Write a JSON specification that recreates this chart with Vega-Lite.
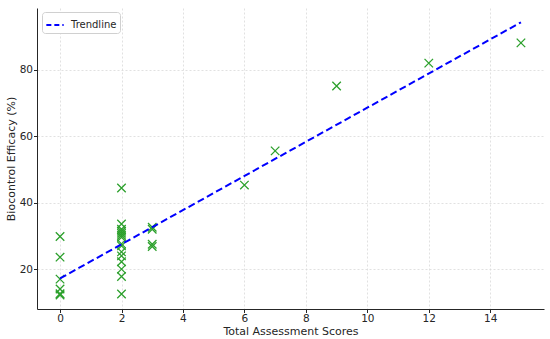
{
  "$schema": "https://vega.github.io/schema/vega-lite/v6.json",
  "width": 507,
  "height": 301,
  "autosize": "none",
  "padding": {"left": 37, "top": 8, "right": 6, "bottom": 30},
  "background": "white",
  "config": {
    "view": {"stroke": null},
    "font": "DejaVu Sans",
    "axis": {
      "labelFont": "DejaVu Sans",
      "titleFont": "DejaVu Sans",
      "labelFontSize": 10.5,
      "titleFontSize": 11,
      "titleFontWeight": "normal",
      "labelColor": "#262626",
      "titleColor": "#262626",
      "domainColor": "#262626",
      "tickColor": "#262626",
      "tickSize": 3.5,
      "domainWidth": 1,
      "gridColor": "#d9d9d9",
      "gridDash": [2, 2],
      "gridWidth": 0.8
    }
  },
  "datasets": {
    "pts": [
      {"score": 0, "efficacy": 29.8},
      {"score": 0, "efficacy": 23.6},
      {"score": 0, "efficacy": 17.0},
      {"score": 0, "efficacy": 14.0},
      {"score": 0, "efficacy": 12.6},
      {"score": 0, "efficacy": 12.2},
      {"score": 2, "efficacy": 44.4},
      {"score": 2, "efficacy": 33.6},
      {"score": 2, "efficacy": 32.0},
      {"score": 2, "efficacy": 31.4},
      {"score": 2, "efficacy": 30.8},
      {"score": 2, "efficacy": 30.2},
      {"score": 2, "efficacy": 29.6},
      {"score": 2, "efficacy": 27.6},
      {"score": 2, "efficacy": 27.0},
      {"score": 2, "efficacy": 25.2},
      {"score": 2, "efficacy": 24.0},
      {"score": 2, "efficacy": 22.2},
      {"score": 2, "efficacy": 20.0},
      {"score": 2, "efficacy": 17.8},
      {"score": 2, "efficacy": 12.5},
      {"score": 3, "efficacy": 32.6},
      {"score": 3, "efficacy": 32.0},
      {"score": 3, "efficacy": 27.5},
      {"score": 3, "efficacy": 26.8},
      {"score": 6, "efficacy": 45.3},
      {"score": 7, "efficacy": 55.6},
      {"score": 9, "efficacy": 75.1},
      {"score": 12, "efficacy": 82.0},
      {"score": 15, "efficacy": 88.1}
    ],
    "trend": [
      {"score": 0, "efficacy": 17.2, "series": "Trendline"},
      {"score": 15, "efficacy": 94.3, "series": "Trendline"}
    ]
  },
  "layer": [
    {
      "data": {"name": "pts"},
      "mark": {
        "type": "point",
        "shape": "M-1,-1L1,1M-1,1L1,-1",
        "filled": false,
        "stroke": "#2ca02c",
        "strokeWidth": 1.3,
        "size": 72,
        "opacity": 1
      },
      "encoding": {
        "x": {
          "field": "score",
          "type": "quantitative",
          "scale": {"domain": [-0.75, 15.75], "nice": false, "zero": false},
          "axis": {"values": [0, 2, 4, 6, 8, 10, 12, 14], "title": "Total Assessment Scores", "titlePadding": 1, "labelPadding": 1}
        },
        "y": {
          "field": "efficacy",
          "type": "quantitative",
          "scale": {"domain": [8, 98.6], "nice": false, "zero": false},
          "axis": {"values": [20, 40, 60, 80], "title": "Biocontrol Efficacy (%)", "titlePadding": 3, "labelPadding": 1}
        }
      }
    },
    {
      "data": {"name": "trend"},
      "mark": {"type": "line", "strokeWidth": 2, "strokeDash": [7, 3.5]},
      "encoding": {
        "x": {"field": "score", "type": "quantitative"},
        "y": {"field": "efficacy", "type": "quantitative"},
        "color": {
          "field": "series",
          "type": "nominal",
          "scale": {"domain": ["Trendline"], "range": ["#0000ff"]},
          "legend": {
            "title": null,
            "orient": "none",
            "legendX": 5,
            "legendY": 4,
            "symbolType": "stroke",
            "symbolDash": [5, 3],
            "symbolStrokeWidth": 2,
            "symbolSize": 300,
            "fillColor": "white",
            "strokeColor": "#d0d0d0",
            "cornerRadius": 3,
            "padding": 3,
            "labelFontSize": 10,
            "labelFont": "DejaVu Sans",
            "labelColor": "#262626",
            "labelOffset": 6
          }
        }
      }
    }
  ]
}
